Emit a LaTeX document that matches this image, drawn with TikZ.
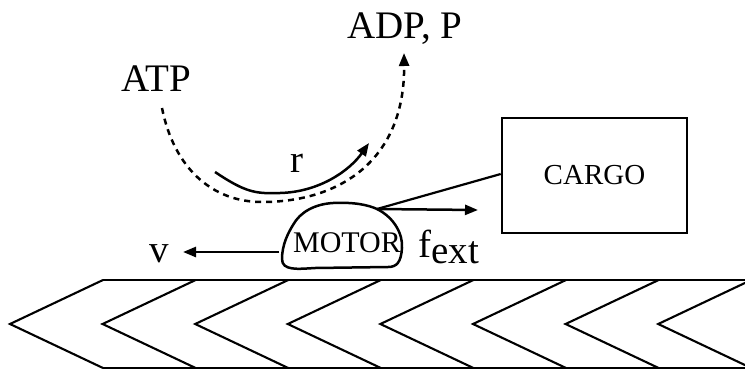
\documentclass[tikz,border=0pt]{standalone}
\usepackage{fontspec}
\setmainfont{Liberation Serif}
\usetikzlibrary{arrows.meta}
\begin{document}
\begin{tikzpicture}[x=1pt,y=-1pt,
  lbl/.style={inner sep=0pt, font=\fontsize{39}{42}\selectfont},
  smalllbl/.style={inner sep=0pt, font=\fontsize{30}{33}\selectfont},
  ln/.style={line width=2.5pt},
  dashln/.style={line width=2.5pt, dash pattern=on 6pt off 5pt},
  tiparrow/.style={-{Triangle[length=13pt,width=10pt]}},
  trackln/.style={line width=2.1pt, line join=miter},
]
\useasboundingbox (0,0) rectangle (745,373);

% labels
\node[lbl, anchor=base] (atp) at (156,91) {ATP};
\node[lbl, anchor=base] (adp) at (405,38) {ADP, P};
\node[lbl, anchor=base] (r) at (297,172) {r};
\node[lbl, anchor=base] (v) at (159,262) {v};
\node[lbl, anchor=base west] (fext) at (418,257) {f\raisebox{-6pt}{ext}};

% dashed reaction path
\coordinate (dstart) at (162,108);
\coordinate (dend) at (404,53);
\draw[dashln, tiparrow] (dstart) .. controls (174,168) and (212,202) .. (262,202)
  .. controls (340,202) and (405,160) .. (dend);

% solid r arc
\coordinate (rstart) at (215,172);
\coordinate (rend) at (369,143);
\draw[ln, tiparrow] (rstart) .. controls (245,192) and (255,194) .. (280,193)
  .. controls (320,192) and (350,170) .. (rend);

% motor blob
\coordinate (att) at (377,209);
\coordinate (motorleft) at (279,252);
\draw[ln, line join=round] (333,203) .. controls (355,202) and (368,205) .. (att)
  .. controls (395,218) and (403,235) .. (402,248)
  .. controls (401,262) and (397,267) .. (388,267) -- (315,268)
  .. controls (298,269) and (282,271) .. (282,259)
  .. controls (282,245) and (288,233) .. (293,225)
  .. controls (300,212) and (315,204) .. (333,203) -- cycle;
\node[smalllbl, anchor=base] (motor) at (347,252) {MOTOR};

% cargo
\node[draw, line width=2.6pt, minimum width=185pt, minimum height=115pt, inner sep=0pt,
  font=\fontsize{29}{32}\selectfont] (cargo) at (594.5,175.5) {CARGO};
\draw[line width=2.2pt] (att) -- ([yshift=1.5pt]cargo.west);

% force and velocity arrows
\coordinate (ftip) at (478,210);
\draw[ln, tiparrow] (att) -- (ftip);
\coordinate (vtip) at (183,252);
\draw[ln, tiparrow] (motorleft) -- (vtip);

% track
\draw[trackln] (103,280) -- (745,280);
\draw[trackln] (103,368) -- (745,368);
\foreach \i in {0,...,7}{
  \pgfmathsetmacro{\xt}{10+92.6*\i}
  \draw[trackln] (\xt+93,280) -- (\xt,324) -- (\xt+93,368);
}
\end{tikzpicture}
\end{document}
